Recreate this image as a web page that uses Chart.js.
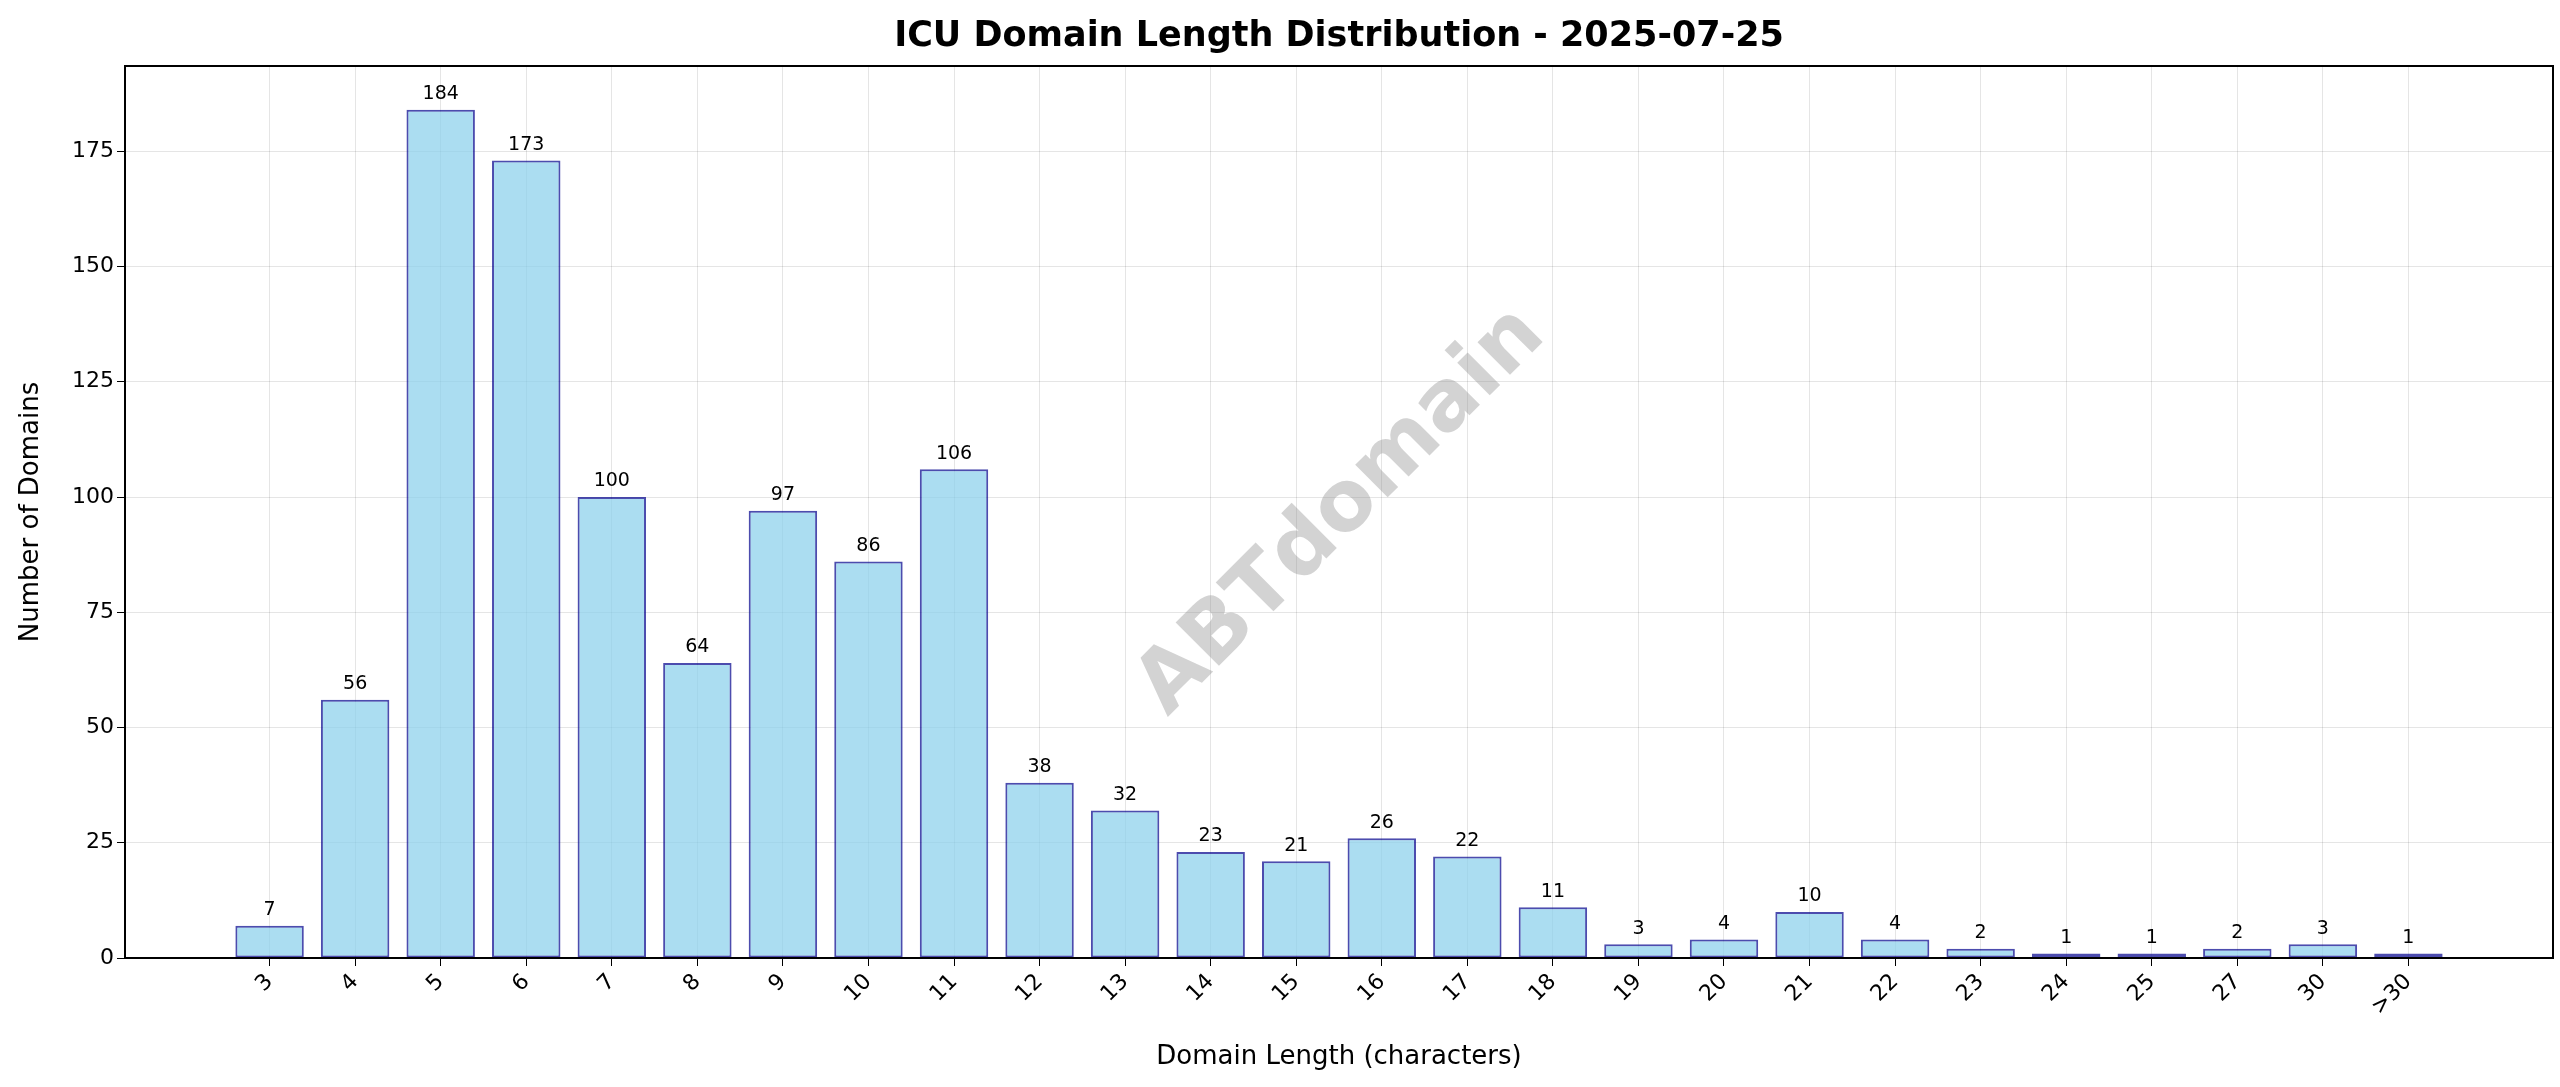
<!DOCTYPE html>
<html><head>
<script src="https://cdn.jsdelivr.net/npm/chart.js@4"></script>
<style>body{margin:0;background:#fff}#wrap{width:2560px;height:1087px}</style>
</head><body>
<div id="wrap"><canvas id="c" width="2560" height="1087"></canvas></div>
<script>
// --- Data ---
const categories = ['3','4','5','6','7','8','9','10','11','12','13','14','15','16','17','18','19','20','21','22','23','24','25','27','30','>30'];
const counts = [7,56,184,173,100,64,97,86,106,38,32,23,21,26,22,11,3,4,10,4,2,1,1,2,3,1];
const yTicks = [0,25,50,75,100,125,150,175];

const FONT = "'DejaVu Sans', sans-serif";
const fills = categories.map(c => c === '>30' ? 'rgba(255,165,0,0.7)' : 'rgba(135,206,235,0.7)');

const extras = {
  id: 'extras',
  beforeDatasetsDraw(chart) {
    const { ctx } = chart;
    // watermark
    ctx.save();
    ctx.translate(1342, 512);
    ctx.rotate(-Math.PI / 4);
    ctx.fillStyle = 'rgba(128,128,128,0.35)';
    ctx.font = "bold 84px " + FONT;
    ctx.textAlign = 'center';
    ctx.textBaseline = 'middle';
    ctx.fillText('ABTdomain', 0, 0);
    ctx.restore();
  },
  afterDatasetsDraw(chart) {
    const { ctx, chartArea: a } = chart;
    ctx.save();
    // value labels
    ctx.font = "19px " + FONT;
    ctx.fillStyle = '#000';
    ctx.textAlign = 'center';
    ctx.textBaseline = 'bottom';
    chart.getDatasetMeta(0).data.forEach((bar, i) => {
      ctx.fillText(String(counts[i]), bar.x, bar.y - 6);
    });
    // frame
    ctx.strokeStyle = '#000';
    ctx.lineWidth = 2;
    ctx.strokeRect(a.left, a.top, a.right - a.left, a.bottom - a.top);
    // title
    ctx.font = "bold 35px " + FONT;
    ctx.textBaseline = 'middle';
    ctx.fillText('ICU Domain Length Distribution - 2025-07-25', (a.left + a.right) / 2, 37);
    ctx.restore();
  }
};

new Chart(document.getElementById('c'), {
  type: 'bar',
  data: {
    datasets: [{
      data: counts.map((v, i) => ({ x: i, y: v })),
      backgroundColor: fills,
      borderColor: 'rgba(0,0,139,0.7)',
      borderWidth: 2,
      borderSkipped: false,
      barPercentage: 0.8,
      categoryPercentage: 1.0
    }]
  },
  options: {
    responsive: false,
    animation: false,
    devicePixelRatio: 1,
    layout: { padding: { top: 66, right: 7, left: 0, bottom: 0 } },
    plugins: { legend: { display: false }, tooltip: { enabled: false } },
    scales: {
      x: {
        type: 'linear',
        offset: false,
        min: -1.69,
        max: 26.69,
        afterBuildTicks: axis => { axis.ticks = categories.map((c, i) => ({ value: i })); },
        afterFit: axis => { axis.height = 129; },
        ticks: {
          autoSkip: false,
          maxRotation: 45,
          minRotation: 45,
          color: '#000',
          font: { family: FONT, size: 22 },
          callback: v => categories[v]
        },
        grid: { offset: false, color: 'rgba(0,0,0,0.1)', drawTicks: true, tickColor: '#000', tickLength: 8 },
        border: { display: false },
        title: { display: true, text: 'Domain Length (characters)', color: '#000', font: { family: FONT, size: 26 }, padding: { top: 0, bottom: 14 } }
      },
      y: {
        min: 0,
        max: 193.5,
        afterBuildTicks: axis => { axis.ticks = yTicks.map(v => ({ value: v })); },
        afterFit: axis => { axis.width = 125; },
        ticks: { color: '#000', font: { family: FONT, size: 22 } },
        grid: { color: 'rgba(0,0,0,0.1)', tickColor: '#000', tickLength: 8 },
        border: { display: false },
        title: { display: true, text: 'Number of Domains', color: '#000', font: { family: FONT, size: 26 }, padding: { top: 16, bottom: 0 } }
      }
    }
  },
  plugins: [extras]
});
</script>
</body></html>
